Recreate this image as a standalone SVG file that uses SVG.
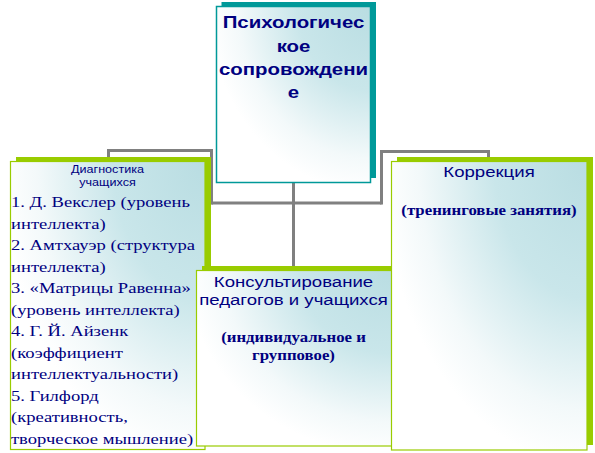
<svg xmlns="http://www.w3.org/2000/svg" width="595" height="453" viewBox="0 0 595 453">
  <style>
    .sans { font-family: "Liberation Sans", Arial, sans-serif; fill: #000080; }
    .serif { font-family: "Liberation Serif", "Times New Roman", serif; fill: #000080; }
    .mid { text-anchor: middle; }
    .conn { fill: none; stroke: #808080; stroke-width: 3; stroke-linejoin: miter; }
    .gbox { fill: url(#fillGrad); stroke: #99cc00; stroke-width: 1.2; }
    .gshadow { fill: #99cc00; }
    .tbox { fill: url(#fillGrad); stroke: #009999; stroke-width: 1.5; }
    .tshadow { fill: #009999; }
  </style>
  <defs>
    <radialGradient id="fillGrad" cx="1" cy="0" r="1.05" fx="1" fy="0" gradientUnits="objectBoundingBox">
      <stop offset="0" stop-color="#b9dde2"/>
      <stop offset="0.45" stop-color="#c9e6ea"/>
      <stop offset="0.82" stop-color="#f3f9fa"/>
      <stop offset="1" stop-color="#ffffff"/>
    </radialGradient>
  </defs>
  <rect width="595" height="453" fill="#ffffff"/>

  <g id="connectors">
    <path class="conn" d="M293.5,183 V270"/>
    <path class="conn" d="M211.5,203 H381.5"/>
    <path class="conn" d="M211.5,204.5 V150.5 H108.5 V162"/>
    <path class="conn" d="M381.5,204.5 V151.5 H488.5 V162"/>
  </g>

  <g id="node-top">
    <rect class="tshadow" x="221.5" y="2" width="154.5" height="176"/>
    <rect class="tbox" x="216.5" y="6.5" width="154" height="176"/>
    <g transform="translate(293.5 0) scale(1.2 1)">
      <text class="sans mid" x="0" y="28.3" font-size="17" font-weight="bold">Психологичес</text>
      <text class="sans mid" x="0" y="51.7" font-size="17" font-weight="bold">кое</text>
      <text class="sans mid" x="0" y="75" font-size="17" font-weight="bold">сопровождени</text>
      <text class="sans mid" x="0" y="98.3" font-size="17" font-weight="bold">е</text>
    </g>
  </g>

  <g id="node-diagnostics">
    <rect class="gshadow" x="16" y="157" width="195" height="288"/>
    <rect class="gbox" x="10.5" y="161.5" width="194.5" height="288"/>
    <g transform="translate(107.5 0) scale(1.2 1)">
      <text class="sans mid" x="0" y="173" font-size="10.5">Диагностика</text>
      <text class="sans mid" x="0" y="186.5" font-size="10.5">учащихся</text>
    </g>
    <g transform="translate(11 0) scale(1.2 1)">
      <text class="serif" x="0" y="207.5" font-size="15.5">1. Д. Векслер (уровень</text>
      <text class="serif" x="0" y="229" font-size="15.5">интеллекта)</text>
      <text class="serif" x="0" y="250.5" font-size="15.5">2. Амтхауэр (структура</text>
      <text class="serif" x="0" y="272" font-size="15.5">интеллекта)</text>
      <text class="serif" x="0" y="293.5" font-size="15.5">3. «Матрицы Равенна»</text>
      <text class="serif" x="0" y="315" font-size="15.5">(уровень интеллекта)</text>
      <text class="serif" x="0" y="336.5" font-size="15.5">4. Г. Й. Айзенк</text>
      <text class="serif" x="0" y="358" font-size="15.5">(коэффициент</text>
      <text class="serif" x="0" y="379.5" font-size="15.5">интеллектуальности)</text>
      <text class="serif" x="0" y="401" font-size="15.5">5. Гилфорд</text>
      <text class="serif" x="0" y="422.5" font-size="15.5">(креативность,</text>
      <text class="serif" x="0" y="444" font-size="15.5">творческое мышление)</text>
    </g>
  </g>

  <g id="node-consult">
    <rect class="gshadow" x="202" y="266" width="195.5" height="175.5"/>
    <rect class="gbox" x="196.5" y="270.5" width="195.5" height="175.5"/>
    <g transform="translate(293.5 0) scale(1.2 1)">
      <text class="sans mid" x="0" y="287" font-size="15.5">Консультирование</text>
      <text class="sans mid" x="0" y="305" font-size="15.5">педагогов и учащихся</text>
      <text class="serif mid" x="0" y="342" font-size="14" font-weight="bold">(индивидуальное и</text>
      <text class="serif mid" x="0" y="360" font-size="14" font-weight="bold">групповое)</text>
    </g>
  </g>

  <g id="node-correction">
    <rect class="gshadow" x="397" y="157" width="196" height="288"/>
    <rect class="gbox" x="391.5" y="161.5" width="195.5" height="288.5"/>
    <g transform="translate(489 0) scale(1.2 1)">
      <text class="sans mid" x="0" y="177" font-size="15.5">Коррекция</text>
      <text class="serif mid" x="0" y="215" font-size="14" font-weight="bold">(тренинговые занятия)</text>
    </g>
  </g>
</svg>
